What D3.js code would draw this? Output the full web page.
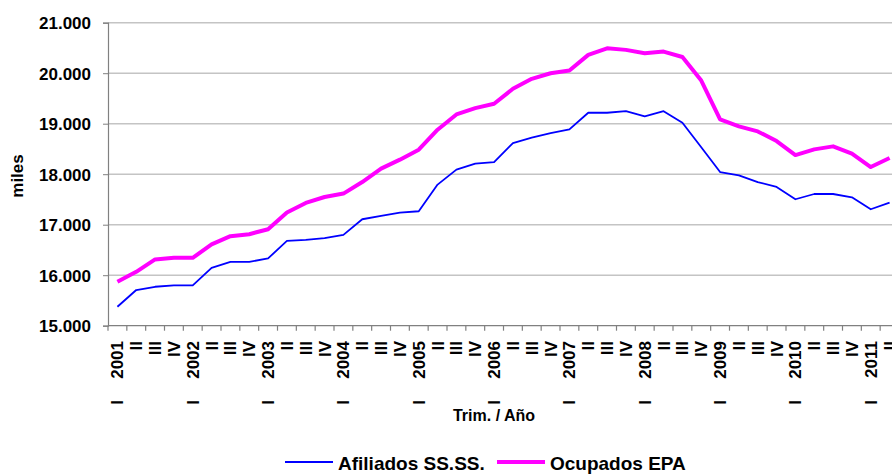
<!DOCTYPE html>
<html>
<head>
<meta charset="utf-8">
<script src="https://cdn.jsdelivr.net/npm/d3@7"></script>
<style>
  body { margin: 0; background: #fff; }
  text { font-family: "Liberation Sans", Arial, sans-serif; font-weight: bold; fill: #000; }
</style>
</head>
<body>
<div id="chart"></div>
<script>
// categories: quarters per year
var years = ['2001','2002','2003','2004','2005','2006','2007','2008','2009','2010','2011'];
var quarters = ['I','II','III','IV'];
var lastYearQuarters = 2;

// thousands of people
var afiliados = [15375, 15706, 15771, 15798, 15798, 16146, 16265, 16265, 16332, 16680,
                 16700, 16733, 16798, 17108, 17174, 17241, 17266, 17794, 18090, 18209,
                 18241, 18616, 18723, 18814, 18887, 19217, 19217, 19248, 19144, 19248,
                 19020, 18535, 18043, 17978, 17845, 17747, 17504, 17608, 17608, 17543,
                 17306, 17438];
var ocupados = [15870, 16067, 16312, 16344, 16344, 16609, 16773, 16812, 16911, 17241,
                17431, 17549, 17616, 17845, 18110, 18288, 18486, 18881, 19183, 19308,
                19395, 19691, 19889, 19999, 20053, 20363, 20493, 20462, 20394, 20428,
                20320, 19855, 19084, 18946, 18847, 18656, 18379, 18492, 18551, 18407,
                18142, 18320];

var yTicks = [15000, 16000, 17000, 18000, 19000, 20000, 21000];
var seriesNames = ['Afiliados SS.SS.', 'Ocupados EPA'];

var cats = [];
years.forEach(function(yr, yi) {
    var n = (yi == years.length - 1) ? lastYearQuarters : quarters.length;
    for (var q = 0; q < n; q++) cats.push({year: yr, q: quarters[q], first: q == 0});
});

var W = 892, H = 474;
var plotL = 108, plotR = 899, plotT = 22.7, plotB = 325.7;

var svg = d3.select('#chart').append('svg')
    .attr('width', W).attr('height', H);

var x = d3.scaleBand()
    .domain(d3.range(cats.length))
    .range([plotL, plotR]);

var y = d3.scaleLinear()
    .domain([15000, 21000])
    .range([plotB, plotT]);

var fmt = d3.formatLocale({decimal: ',', thousands: '.', grouping: [3], currency: ['', '']}).format(',d');

// gridlines
svg.append('g').selectAll('line').data(yTicks.slice(1)).enter().append('line')
    .attr('x1', plotL).attr('x2', plotR)
    .attr('y1', function(d){ return y(d); })
    .attr('y2', function(d){ return y(d); })
    .attr('stroke', '#c4c4c4').attr('stroke-width', 1.5);

// y axis
var yAxis = svg.append('g')
    .attr('transform', 'translate(' + plotL + ',0)')
    .call(d3.axisLeft(y).tickValues(yTicks).tickFormat(fmt).tickSize(5).tickPadding(12));
yAxis.select('.domain').attr('stroke', '#808080').attr('stroke-width', 1.2);
yAxis.selectAll('.tick line').attr('stroke', '#808080');
yAxis.selectAll('.tick text')
    .style('font-size', '17px').style('font-family', '"Liberation Sans", Arial, sans-serif')
    .style('font-weight', 'bold').attr('fill', '#000').attr('dy', '0.36em');

// x axis: ticks between categories
svg.append('line')
    .attr('x1', plotL).attr('x2', plotR).attr('y1', plotB).attr('y2', plotB)
    .attr('stroke', '#808080').attr('stroke-width', 1.2);
svg.append('g').selectAll('line').data(d3.range(cats.length + 1)).enter().append('line')
    .attr('x1', function(i){ return plotL + i * x.step(); })
    .attr('x2', function(i){ return plotL + i * x.step(); })
    .attr('y1', plotB).attr('y2', plotB + 5)
    .attr('stroke', '#808080').attr('stroke-width', 1.2);

var xl = svg.append('g').selectAll('g').data(cats).enter().append('g')
    .attr('transform', function(d, i){ return 'translate(' + (x(i) + x.bandwidth() / 2) + ',0)'; });

// year or quarter at top of label
xl.append('text')
    .attr('transform', 'translate(0,341) rotate(-90)')
    .attr('text-anchor', 'end')
    .attr('dy', '0.35em')
    .style('font-size', '17px')
    .text(function(d){ return d.first ? d.year : d.q; });

// first quarter mark further down
xl.filter(function(d){ return d.first; }).append('text')
    .attr('transform', 'translate(0,400) rotate(-90)')
    .attr('text-anchor', 'end')
    .attr('dy', '0.35em')
    .style('font-size', '17px')
    .text(function(d){ return d.q; });

// axis titles
svg.append('text')
    .attr('x', 494).attr('y', 421)
    .attr('text-anchor', 'middle')
    .style('font-size', '16px')
    .text('Trim. / Año');

svg.append('text')
    .attr('transform', 'translate(23,176) rotate(-90)')
    .attr('text-anchor', 'middle')
    .style('font-size', '17px')
    .text('miles');

// lines
var line = d3.line()
    .x(function(d, i){ return x(i) + x.bandwidth() / 2; })
    .y(function(d){ return y(d); });

svg.append('path')
    .datum(afiliados)
    .attr('d', line)
    .attr('fill', 'none')
    .attr('stroke', '#0000ff')
    .attr('stroke-width', 1.8)
    .attr('stroke-linejoin', 'round');

svg.append('path')
    .datum(ocupados)
    .attr('d', line)
    .attr('fill', 'none')
    .attr('stroke', '#ff00ff')
    .attr('stroke-width', 4)
    .attr('stroke-linejoin', 'round');

// legend
var legend = [
    {name: seriesNames[0], color: '#0000ff', w: 1.8, x: 285},
    {name: seriesNames[1], color: '#ff00ff', w: 4, x: 497}
];
var lg = svg.append('g').selectAll('g').data(legend).enter().append('g')
    .attr('transform', function(d){ return 'translate(' + d.x + ',0)'; });
lg.append('line')
    .attr('x1', 0).attr('x2', 48).attr('y1', 462).attr('y2', 462)
    .attr('stroke', function(d){ return d.color; })
    .attr('stroke-width', function(d){ return d.w; });
lg.append('text')
    .attr('x', 53).attr('y', 470)
    .style('font-size', '19px')
    .text(function(d){ return d.name; });
</script>
</body>
</html>
